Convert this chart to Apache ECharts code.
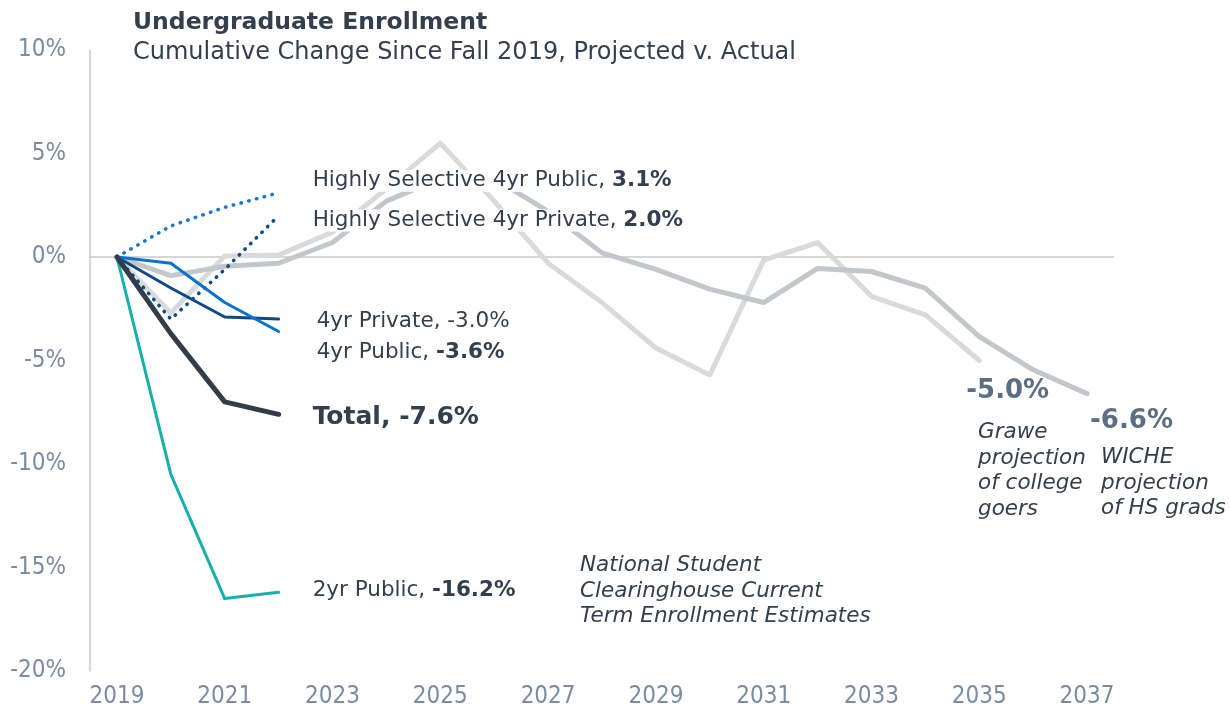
<!DOCTYPE html>
<html>
<head>
<meta charset="utf-8">
<script src="https://cdn.jsdelivr.net/npm/echarts@6/dist/echarts.min.js"></script>
<style>
  html, body { margin: 0; padding: 0; background: #fff; }
  #main { width: 1230px; height: 709px; }
</style>
</head>
<body>
<div id="main"></div>
<script>
// years on the x axis
var years = ['2019','2020','2021','2022','2023','2024','2025','2026','2027','2028',
  '2029','2030','2031','2032','2033','2034','2035','2036','2037'];

// actual NSC estimates (2019-2022)
var totalVals = [0, -3.7, -7.0, -7.6];
var twoYrPublic = [0, -10.5, -16.5, -16.2];
var fourYrPublic = [0, -0.3, -2.2, -3.6];
var fourYrPrivate = [0, -1.5, -2.9, -3.0];
var hsPublic = [0, 1.5, 2.4, 3.1];
var hsPrivate = [0, -3.0, -0.6, 2.0];

// projections
var wiche = [0, -0.9, -0.45, -0.3, 0.7, 2.7, 3.8, 3.8, 2.2, 0.2, -0.6, -1.55, -2.2, -0.55, -0.7, -1.5, -3.85, -5.45, -6.6];
var grawe = [0, -2.7, 0.05, 0.1, 1.2, 3.3, 5.5, 2.7, -0.3, -2.2, -4.4, -5.7, -0.15, 0.7, -1.9, -2.8, -5.0];

var yTicks = { min: -20, max: 10, step: 5 };

var chart = echarts.init(document.getElementById('main'));

var txt = '#333f4d';
var FONT = 'DejaVu Sans';
var TICKFONT = 'DejaVu Sans Condensed, DejaVu Sans';

function lineSeries(name, data, color, width, type, label) {
  return {
    name: name,
    type: 'line',
    data: data,
    symbol: 'none',
    smooth: false,
    lineStyle: { color: color, width: width, type: type || 'solid', cap: 'round', join: 'round' },
    endLabel: label,
    z: 3
  };
}

var richBase = {
  a: { fontFamily: FONT, fontSize: 21.5, color: txt },
  b: { fontFamily: FONT, fontSize: 21.5, color: txt, fontWeight: 'bold' }
};

function lbl(fmt, dx, dy, extra) {
  var o = {
    show: true,
    formatter: fmt,
    distance: 0,
    offset: [dx, dy],
    align: 'left',
    verticalAlign: 'middle',
    rich: richBase,
    backgroundColor: '#fff',
    padding: [0, 1]
  };
  if (extra) for (var k in extra) o[k] = extra[k];
  return o;
}

var option = {
  animation: false,
  backgroundColor: '#fff',
  title: {
    text: 'Undergraduate Enrollment',
    subtext: 'Cumulative Change Since Fall 2019, Projected v. Actual',
    left: 128,
    top: 6,
    itemGap: 6,
    textStyle: { fontFamily: FONT, fontSize: 23.5, fontWeight: 'bold', color: txt },
    subtextStyle: { fontFamily: FONT, fontSize: 24, color: txt }
  },
  grid: { left: 90, right: 116, top: 50, bottom: 38, containLabel: false, outerBoundsMode: 'none' },
  xAxis: {
    type: 'category',
    data: years,
    boundaryGap: true,
    axisLine: { show: false },
    axisTick: { show: false },
    splitLine: { show: false },
    axisLabel: {
      interval: 1,
      margin: 14,
      fontFamily: TICKFONT,
      fontSize: 24,
      color: '#7a8ca0'
    }
  },
  yAxis: {
    type: 'value',
    min: yTicks.min,
    max: yTicks.max,
    interval: yTicks.step,
    axisLine: { show: true, lineStyle: { color: '#c8c8c8', width: 1.5 } },
    axisTick: { show: false },
    splitLine: { show: false },
    axisLabel: {
      formatter: '{value}%',
      margin: 24,
      fontFamily: TICKFONT,
      fontSize: 24,
      color: '#7a8ca0'
    }
  },
  series: [
    (function () {
      var s = lineSeries('Grawe', grawe, '#d9dadc', 5, 'solid',
        lbl('{v|-5.0%}', -14, 31, { rich: { v: { fontFamily: FONT, fontSize: 26, fontWeight: 'bold', color: '#5c6f82' } }, backgroundColor: 'transparent' }));
      s.z = 1;
      s.markLine = {
        silent: true,
        symbol: 'none',
        label: { show: false },
        lineStyle: { color: '#c8c8c8', width: 1.5, type: 'solid' },
        data: [{ yAxis: 0 }],
        z: 0
      };
      return s;
    })(),
    (function () {
      var s = lineSeries('WICHE', wiche, '#c3c6ca', 5, 'solid',
        lbl('{v|-6.6%}', 2, 28, { rich: { v: { fontFamily: FONT, fontSize: 26, fontWeight: 'bold', color: '#5c6f82' } }, backgroundColor: 'transparent' }));
      s.z = 2;
      return s;
    })(),
    lineSeries('Highly Selective 4yr Public', hsPublic, '#1677d2', 3.5, [0.5, 7.5],
      lbl('{a|Highly Selective 4yr Public, }{b|3.1%}', 33, -12)),
    lineSeries('Highly Selective 4yr Private', hsPrivate, '#0d4a86', 3.5, [0.5, 7.5],
      lbl('{a|Highly Selective 4yr Private, }{b|2.0%}', 33, 5)),
    lineSeries('4yr Private', fourYrPrivate, '#0d4a86', 3, 'solid',
      lbl('{a|4yr Private, -3.0%}', 37, 2)),
    lineSeries('4yr Public', fourYrPublic, '#0a72cc', 3, 'solid',
      lbl('{a|4yr Public, }{b|-3.6%}', 37, 21)),
    lineSeries('2yr Public', twoYrPublic, '#14b1a9', 3, 'solid',
      lbl('{a|2yr Public, }{b|-16.2%}', 33, -2)),
    lineSeries('Total', totalVals, '#333d4a', 5, 'solid',
      lbl('{t|Total, -7.6%}', 33, 3, { rich: { t: { fontFamily: FONT, fontSize: 25, fontWeight: 'bold', color: txt } } }))
  ],
  graphic: [
    {
      type: 'text', left: 580, top: 553,
      style: {
        text: 'National Student\nClearinghouse Current\nTerm Enrollment Estimates',
        font: 'italic 21.5px "DejaVu Sans"', fill: txt, lineHeight: 25.5
      }
    },
    {
      type: 'text', left: 978, top: 420,
      style: {
        text: 'Grawe\nprojection\nof college\ngoers',
        font: 'italic 21.5px "DejaVu Sans"', fill: txt, lineHeight: 25.5
      }
    },
    {
      type: 'text', left: 1101, top: 445,
      style: {
        text: 'WICHE\nprojection\nof HS grads',
        font: 'italic 21.5px "DejaVu Sans"', fill: txt, lineHeight: 25.5
      }
    }
  ]
};

chart.setOption(option);
</script>
</body>
</html>
